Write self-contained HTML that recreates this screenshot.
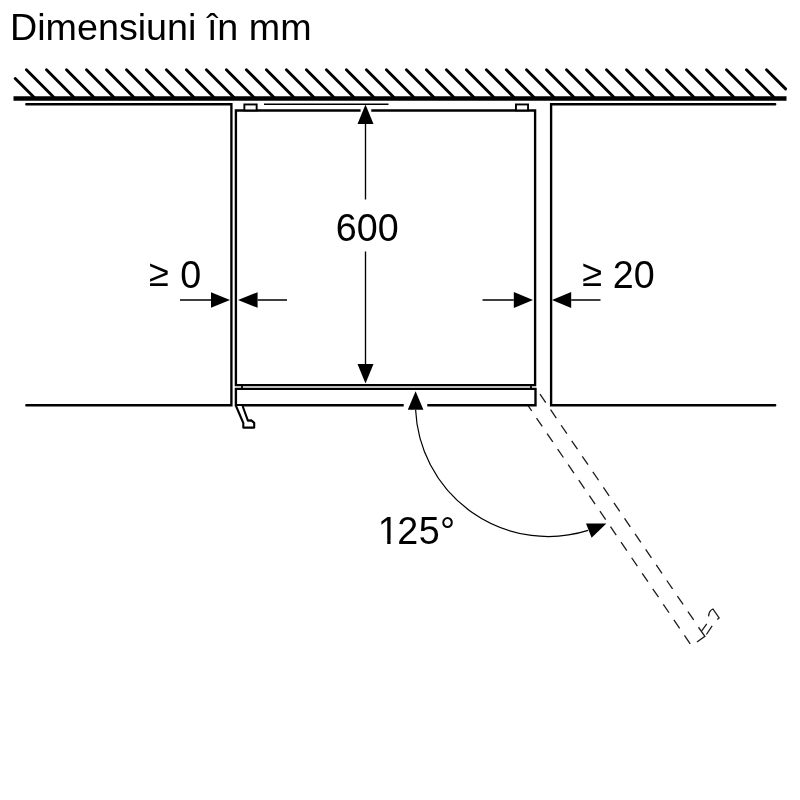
<!DOCTYPE html>
<html lang="ro"><head><meta charset="utf-8"><title>Dimensiuni în mm</title>
<style>
html,body{margin:0;padding:0;background:#fff;}
body{width:800px;height:800px;overflow:hidden;font-family:"Liberation Sans",sans-serif;color:#000;}
.figure{position:relative;width:800px;height:800px;margin:0;background:#fff;will-change:transform;}
.figure h1{position:absolute;left:10px;top:4px;margin:0;padding:0;font-weight:normal;font-size:37.7px;line-height:46px;height:46px;white-space:nowrap;}
.figure svg{position:absolute;left:0;top:0;display:block;}
text{font-family:"Liberation Sans",sans-serif;fill:#000;}
</style>
</head><body>
<figure class="figure">
<h1>Dimensiuni în mm</h1>
<svg width="800" height="800" viewBox="0 0 800 800" role="img" aria-label="Dimensiuni în mm">
<g stroke="#000" stroke-width="2.95" stroke-linecap="round" fill="none">
<line x1="15.2" y1="78.5" x2="34" y2="97.3"/>
<line x1="26.4" y1="69.75" x2="53.8" y2="97.2"/>
<line x1="46.5" y1="69.75" x2="73.8" y2="97.2"/>
<line x1="66.5" y1="69.75" x2="93.8" y2="97.2"/>
<line x1="86.5" y1="69.75" x2="113.8" y2="97.2"/>
<line x1="106.5" y1="69.75" x2="133.8" y2="97.2"/>
<line x1="126.5" y1="69.75" x2="153.8" y2="97.2"/>
<line x1="146.4" y1="69.75" x2="173.8" y2="97.2"/>
<line x1="166.4" y1="69.75" x2="193.8" y2="97.2"/>
<line x1="186.4" y1="69.75" x2="213.8" y2="97.2"/>
<line x1="206.4" y1="69.75" x2="233.8" y2="97.2"/>
<line x1="226.4" y1="69.75" x2="253.8" y2="97.2"/>
<line x1="246.4" y1="69.75" x2="273.8" y2="97.2"/>
<line x1="266.4" y1="69.75" x2="293.8" y2="97.2"/>
<line x1="286.4" y1="69.75" x2="313.8" y2="97.2"/>
<line x1="306.4" y1="69.75" x2="333.8" y2="97.2"/>
<line x1="326.4" y1="69.75" x2="353.8" y2="97.2"/>
<line x1="346.4" y1="69.75" x2="373.8" y2="97.2"/>
<line x1="366.4" y1="69.75" x2="393.8" y2="97.2"/>
<line x1="386.4" y1="69.75" x2="413.8" y2="97.2"/>
<line x1="406.4" y1="69.75" x2="433.8" y2="97.2"/>
<line x1="426.4" y1="69.75" x2="453.8" y2="97.2"/>
<line x1="446.4" y1="69.75" x2="473.8" y2="97.2"/>
<line x1="466.4" y1="69.75" x2="493.8" y2="97.2"/>
<line x1="486.4" y1="69.75" x2="513.9" y2="97.2"/>
<line x1="506.4" y1="69.75" x2="533.9" y2="97.2"/>
<line x1="526.5" y1="69.75" x2="553.9" y2="97.2"/>
<line x1="546.5" y1="69.75" x2="573.9" y2="97.2"/>
<line x1="566.5" y1="69.75" x2="593.9" y2="97.2"/>
<line x1="586.5" y1="69.75" x2="613.9" y2="97.2"/>
<line x1="606.5" y1="69.75" x2="633.9" y2="97.2"/>
<line x1="626.5" y1="69.75" x2="653.9" y2="97.2"/>
<line x1="646.5" y1="69.75" x2="673.9" y2="97.2"/>
<line x1="666.5" y1="69.75" x2="693.9" y2="97.2"/>
<line x1="686.5" y1="69.75" x2="713.9" y2="97.2"/>
<line x1="706.5" y1="69.75" x2="733.9" y2="97.2"/>
<line x1="726.5" y1="69.75" x2="753.9" y2="97.2"/>
<line x1="746.5" y1="69.75" x2="773.9" y2="97.2"/>
<line x1="766.5" y1="69.75" x2="785.6" y2="88.9"/>
</g>
<line x1="13.5" y1="98.4" x2="786.5" y2="98.4" stroke="#000" stroke-width="4.5"/>
<g stroke="#1c1c1c" stroke-width="1.3" fill="none" stroke-dasharray="10.2 8.58">
<path d="M525.95 402.5 L690.31 643.98"/>
<path d="M540 394.2 L693.73 620.05"/>
</g>
<path d="M697 642 L704.9 636.25 L698.5 627.25 M701.9 630.6 L706.75 623.9 M706.4 634.5 L712.15 625.9 M708.6 616.4 Q708.9 610.6 712.9 609 L719.1 617.9 L717.25 619.4" stroke="#1c1c1c" stroke-width="1.3" fill="none"/>
<g stroke="#000" stroke-width="2.35" fill="none" stroke-linejoin="miter">
<path d="M26.3 104.2 H231.4 V405.2 H26.3" stroke-linecap="round"/>
<path d="M775.2 104.2 H551.1 V405.2 H775.2" stroke-linecap="round"/>
<path d="M360.6 110.5 H235.9 V385.1 H535.1 V110.5 H371.3" fill="#fff"/>
<path d="M403.7 405.2 H235.9 V388.9 H535.5 V405.2 H427.3" fill="#fff"/>
<path d="M242 385.1 V388.9 M531 385.1 V388.9" stroke-width="1.8"/>
<rect x="244.35" y="104.45" width="12.3" height="5.95" fill="#fff" stroke-width="1.9"/>
<rect x="515.95" y="104.45" width="12.1" height="5.95" fill="#fff" stroke-width="1.9"/>
<path d="M236 406 L243.3 423 V427.6 H254.2 V422.9 L251.3 420.4 L247.9 420.6 L242.6 406" fill="#fff" stroke-width="2.1" stroke-linejoin="round"/>
</g>
<line x1="264" y1="104.25" x2="388.5" y2="104.25" stroke="#000" stroke-width="1.3"/>
<g stroke="#000" stroke-width="1.35" fill="none">
<path d="M365.5 124 V199.6 M365.5 251.4 V364"/>
<path d="M180 300 H211 M257.6 300 H287"/>
<path d="M482.5 300 H513.8 M571.2 300 H600.5"/>
<path d="M415.6 409.8 A132.84 132.84 0 0 0 588.1 530.4" stroke-width="1.2"/>
</g>
<g fill="#000">
<path d="M365.5 104.6 L373.5 124 H357.5 Z"/>
<path d="M365.5 383.4 L373.5 364 H357.5 Z"/>
<path d="M230 300 L211 292.2 V307.8 Z"/>
<path d="M238 300 L257.6 292.2 V307.8 Z"/>
<path d="M533 300 L513.8 292 V308 Z"/>
<path d="M552 300 L571.2 292 V308 Z"/>
<path d="M415.6 391.2 L423.4 409.8 H407.8 Z"/>
<path d="M606.4 523.4 L586 523.4 L591.6 537.8 Z"/>
</g>
<g font-size="37.7">
<text x="367.2" y="0" text-anchor="middle" transform="translate(0 241) scale(1 1.03)">600</text>
<text x="149" y="0" transform="translate(0 288) scale(1 1.03)"><tspan font-size="36.3" dy="-1.6">≥</tspan><tspan x="169.73" dy="1.6"> 0</tspan></text>
<text x="582.25" y="0" transform="translate(0 288) scale(1 1.03)"><tspan font-size="36.3" dy="-1.6">≥</tspan><tspan x="602.28" dy="1.6"> 20</tspan></text>
<text x="377.75 397.25 418.75 440" y="0" transform="translate(0 544) scale(1 1.04)">125°</text>
</g>
<path d="M379 540.2 H387.23 V545 H379 Z M390.56 540.2 H398 V545 H390.56 Z" fill="#fff"/>
</svg>
</figure>
</body></html>
